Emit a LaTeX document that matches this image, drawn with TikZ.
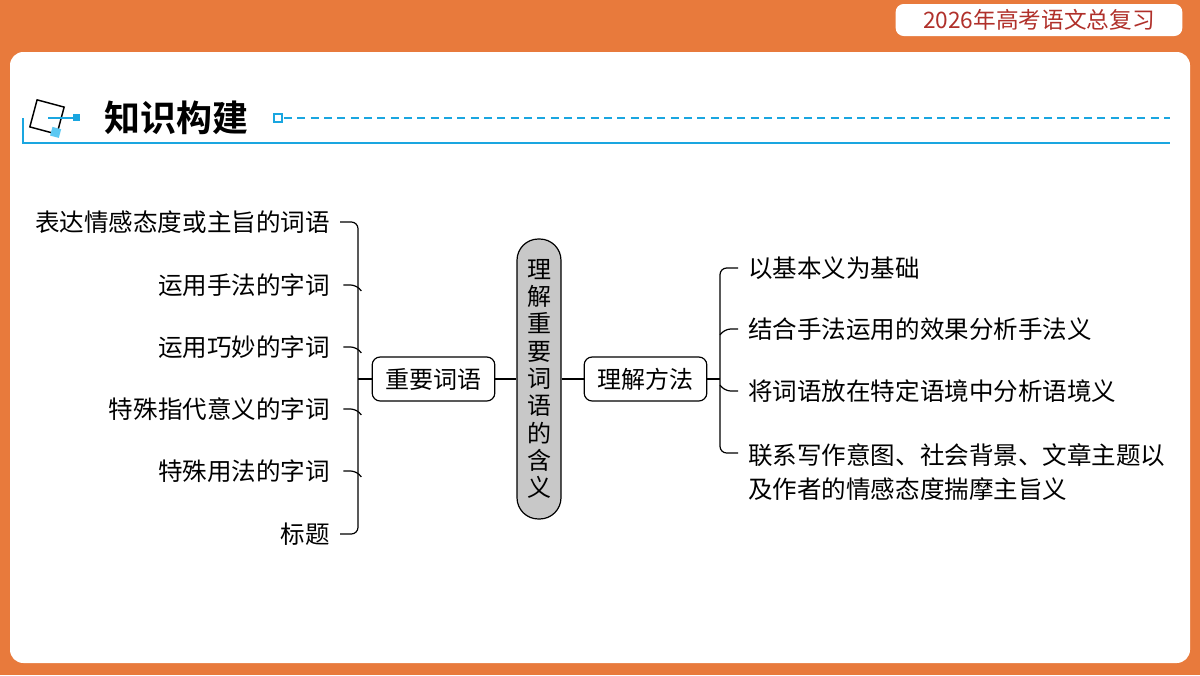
\documentclass[tikz,border=0pt]{standalone}
\usepackage{fontspec}
\newfontfamily\cjk{Noto Sans CJK SC}
\newfontfamily\cjkb{Noto Sans CJK SC Bold}
\definecolor{bgor}{HTML}{E87A3C}
\definecolor{hblue}{HTML}{1AA6E0}
\definecolor{lblue}{HTML}{5CC8F2}
\definecolor{pill}{HTML}{C8C8C8}
\definecolor{tred}{HTML}{B0302A}
\begin{document}
\begin{tikzpicture}[x=0.75pt,y=-0.75pt,
  txt/.style={font=\cjk\fontsize{18.4}{22}\selectfont,inner sep=0pt},
  box/.style={draw,line width=0.9pt,rounded corners=6pt,minimum width=92pt,minimum height=33pt,inner sep=2pt,font=\cjk\fontsize{18}{22}\selectfont},
  ln/.style={line width=0.9pt,rounded corners=5pt}]
\useasboundingbox (0,0) rectangle (1200,675);
\fill[bgor] (0,0) rectangle (1200,675);
\fill[white,rounded corners=10pt] (10,52) rectangle (1190,663);
\node[fill=white,rounded corners=6pt,minimum width=215pt,minimum height=24pt,text=tred,font=\cjk\fontsize{17}{20}\selectfont] (ttl) at (1039,20) {2026年高考语文总复习};
% header
\draw[hblue,line width=1.4pt] (23,118) -- (23,143) -- (1170,143);
\draw[hblue,line width=1.2pt,dash pattern=on 6pt off 4pt] (284,118) -- (1170,118);
\draw[hblue,line width=1pt,fill=white] (274,114) rectangle (282,122);
\draw[black,line width=1.1pt,rotate around={-15:(47,117)}] (33,103) rectangle (61,131);
\fill[lblue,rotate around={-15:(56,133)}] (51,128) rectangle (60,137);
\draw[hblue,line width=1.4pt] (48,118) -- (74,118);
\fill[hblue] (73,114) rectangle (80,121);
\node[font=\cjkb\fontsize{27}{32}\selectfont,anchor=west] (head) at (100,118) {知识构建};
% center
\node[draw,line width=0.9pt,fill=pill,rounded corners=16pt,minimum width=33pt,minimum height=210pt,align=center,font=\cjk\fontsize{18}{20.5}\selectfont,inner sep=2pt] (c) at (539,379) {理\\解\\重\\要\\词\\语\\的\\含\\义};
\node[box] (l) at (433.5,379) {重要词语};
\node[box] (r) at (645.5,379) {理解方法};
\draw[ln] (l.east) -- (c.west);
\draw[ln] (c.east) -- (r.west);
\coordinate (lj) at (358,379);
\coordinate (rj) at (720,379);
\draw[ln] (l.west) -- (lj);
\draw[ln] (r.east) -- (rj);
% left items
\foreach \t/\y [count=\i] in {表达情感态度或主旨的词语/222,运用手法的字词/285,运用巧妙的字词/347,特殊指代意义的字词/409,特殊用法的字词/471,标题/534}
  \node[txt,anchor=east] (a\i) at (330,\y) {\t};
\draw[ln] (340,222) -- (358,222) -- (358,534) -- (340,534);
\foreach \i in {2,3,4,5} \draw[ln] ([xshift=10pt]a\i.east) -- ++(14,0) -- ++(4,6);
% right items
\node[txt,anchor=west] (b1) at (748,268) {以基本义为基础};
\node[txt,anchor=west] (b2) at (748,329) {结合手法运用的效果分析手法义};
\node[txt,anchor=west] (b3) at (748,391) {将词语放在特定语境中分析语境义};
\node[txt,anchor=west,align=left] (b4) at (748,472) {联系写作意图、社会背景、文章主题以\\[4pt]及作者的情感态度揣摩主旨义};
\draw[ln] (738,268) -- (720,268) -- (720,453) -- (738,453);
\draw[ln] (738,329) -- (724,329) -- (720,335);
\draw[ln] (738,391) -- (724,391) -- (720,385);
\end{tikzpicture}
\end{document}
